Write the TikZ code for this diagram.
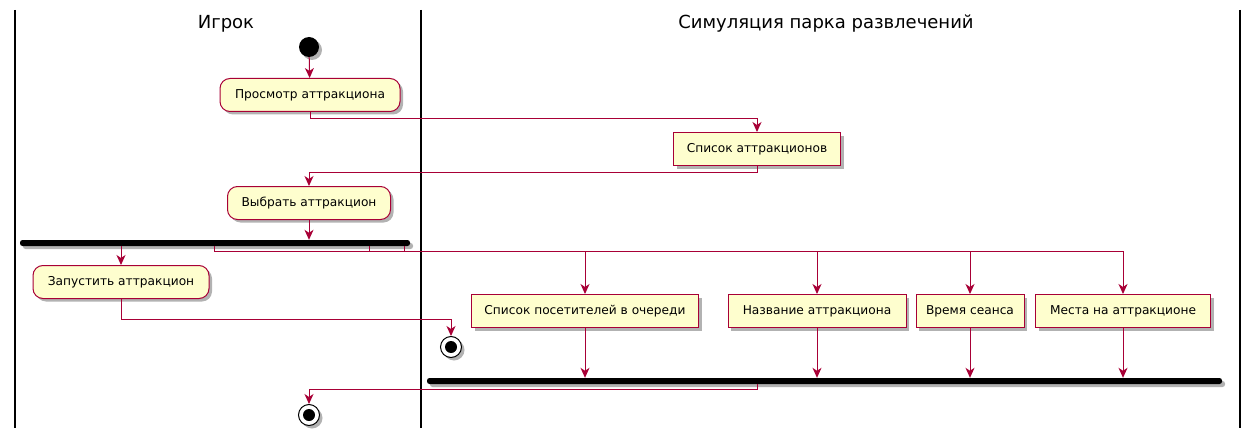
\documentclass[tikz,border=0pt]{standalone}
\usepackage{fontspec}
\setmainfont{DejaVu Sans}
\usetikzlibrary{arrows.meta,shadows}
\definecolor{pborder}{HTML}{A80036}
\definecolor{pfill}{HTML}{FEFECE}
\begin{document}
\begin{tikzpicture}[x=1pt,y=-1pt,
  shade/.style={drop shadow={shadow xshift=3pt,shadow yshift=-3pt,fill=black,opacity=0.3}},
  act/.style={draw=pborder, fill=pfill, line width=1pt, rounded corners=10pt,
    minimum height=33pt, inner sep=0pt, font=\fontsize{12.2}{14}\selectfont, shade},
  rectact/.style={act, rounded corners=0pt},
  conn/.style={draw=pborder, line width=1pt, -{Stealth[length=10pt,width=9pt,inset=3pt]}},
  plain/.style={draw=pborder, line width=1pt},
  bar/.style={fill=black, rounded corners=2.5pt, minimum height=6pt, inner sep=0pt, shade},
  startn/.style={circle, fill=black, minimum size=20pt, inner sep=0pt, shade},
  stopn/.style={circle, draw=black, line width=1pt, fill=white, minimum size=21pt, inner sep=0pt, shade,
    path picture={\fill[black] (path picture bounding box.center) circle (6pt);}},
  lane/.style={draw=black, line width=1.5pt},
  head/.style={font=\fontsize{18}{20}\selectfont, inner sep=0pt}
]
\useasboundingbox (0,0) rectangle (1252,441);
% swimlanes
\draw[lane] (15,10) -- (15,428);
\draw[lane] (421,10) -- (421,428);
\draw[lane] (1240,10) -- (1240,428);
\node[head] (h1) at (226,24) {Игрок};
\node[head] (h2) at (826,24) {Симуляция парка развлечений};
% nodes
\node[startn] (s) at (309,47) {};
\node[act, minimum width=180pt] (a1) at (310,95) {Просмотр аттракциона};
\node[rectact, minimum width=167pt] (a2) at (757,149) {Список аттракционов};
\node[act, minimum width=163pt] (a3) at (309,203) {Выбрать аттракцион};
\node[bar, minimum width=390pt] (f1) at (215,243) {};
\node[act, minimum width=176pt] (a4) at (121,282) {Запустить аттракцион};
\node[rectact, minimum width=227pt] (b1) at (585,311) {Список посетителей в очереди};
\node[rectact, minimum width=178pt] (b2) at (817,311) {Название аттракциона};
\node[rectact, minimum width=108pt] (b3) at (970,311) {Время сеанса};
\node[rectact, minimum width=175pt] (b4) at (1123,311) {Места на аттракционе};
\node[bar, minimum width=795pt] (f2) at (824.5,381) {};
\node[stopn] (e1) at (451,347) {};
\node[stopn] (e2) at (309,415) {};
\coordinate (t1) at (214,251);
\coordinate (t2) at (369,251);
\coordinate (t3) at (404,251);
\coordinate (jx) at (757,389);
% connectors
\draw[conn] (s) -- (a1);
\draw[conn] (a1.south) -- ++(0,7) -| (a2.north);
\draw[conn] (a2.south) -- ++(0,6) -| (a3.north);
\draw[conn] (a3.south) -- (a3.south |- f1.north);
\draw[conn] (a4.north |- f1.south) -- (a4.north);
\draw[plain] (t1 |- f1.south) -- (t1);
\draw[plain] (t2 |- f1.south) -- (t2);
\draw[plain] (t3 |- f1.south) -- (t3);
\draw[conn] (t1) -| (b4.north);
\draw[conn] (t1 -| b1.north) -- (b1.north);
\draw[conn] (t1 -| b2.north) -- (b2.north);
\draw[conn] (t1 -| b3.north) -- (b3.north);
\draw[conn] (a4.south) -- ++(0,20) -| (e1.north);
\draw[conn] (b1.south) -- (b1.south |- f2.north);
\draw[conn] (b2.south) -- (b2.south |- f2.north);
\draw[conn] (b3.south) -- (b3.south |- f2.north);
\draw[conn] (b4.south) -- (b4.south |- f2.north);
\draw[conn] (jx |- f2.south) -- (jx) -| (e2.north);
\end{tikzpicture}
\end{document}
